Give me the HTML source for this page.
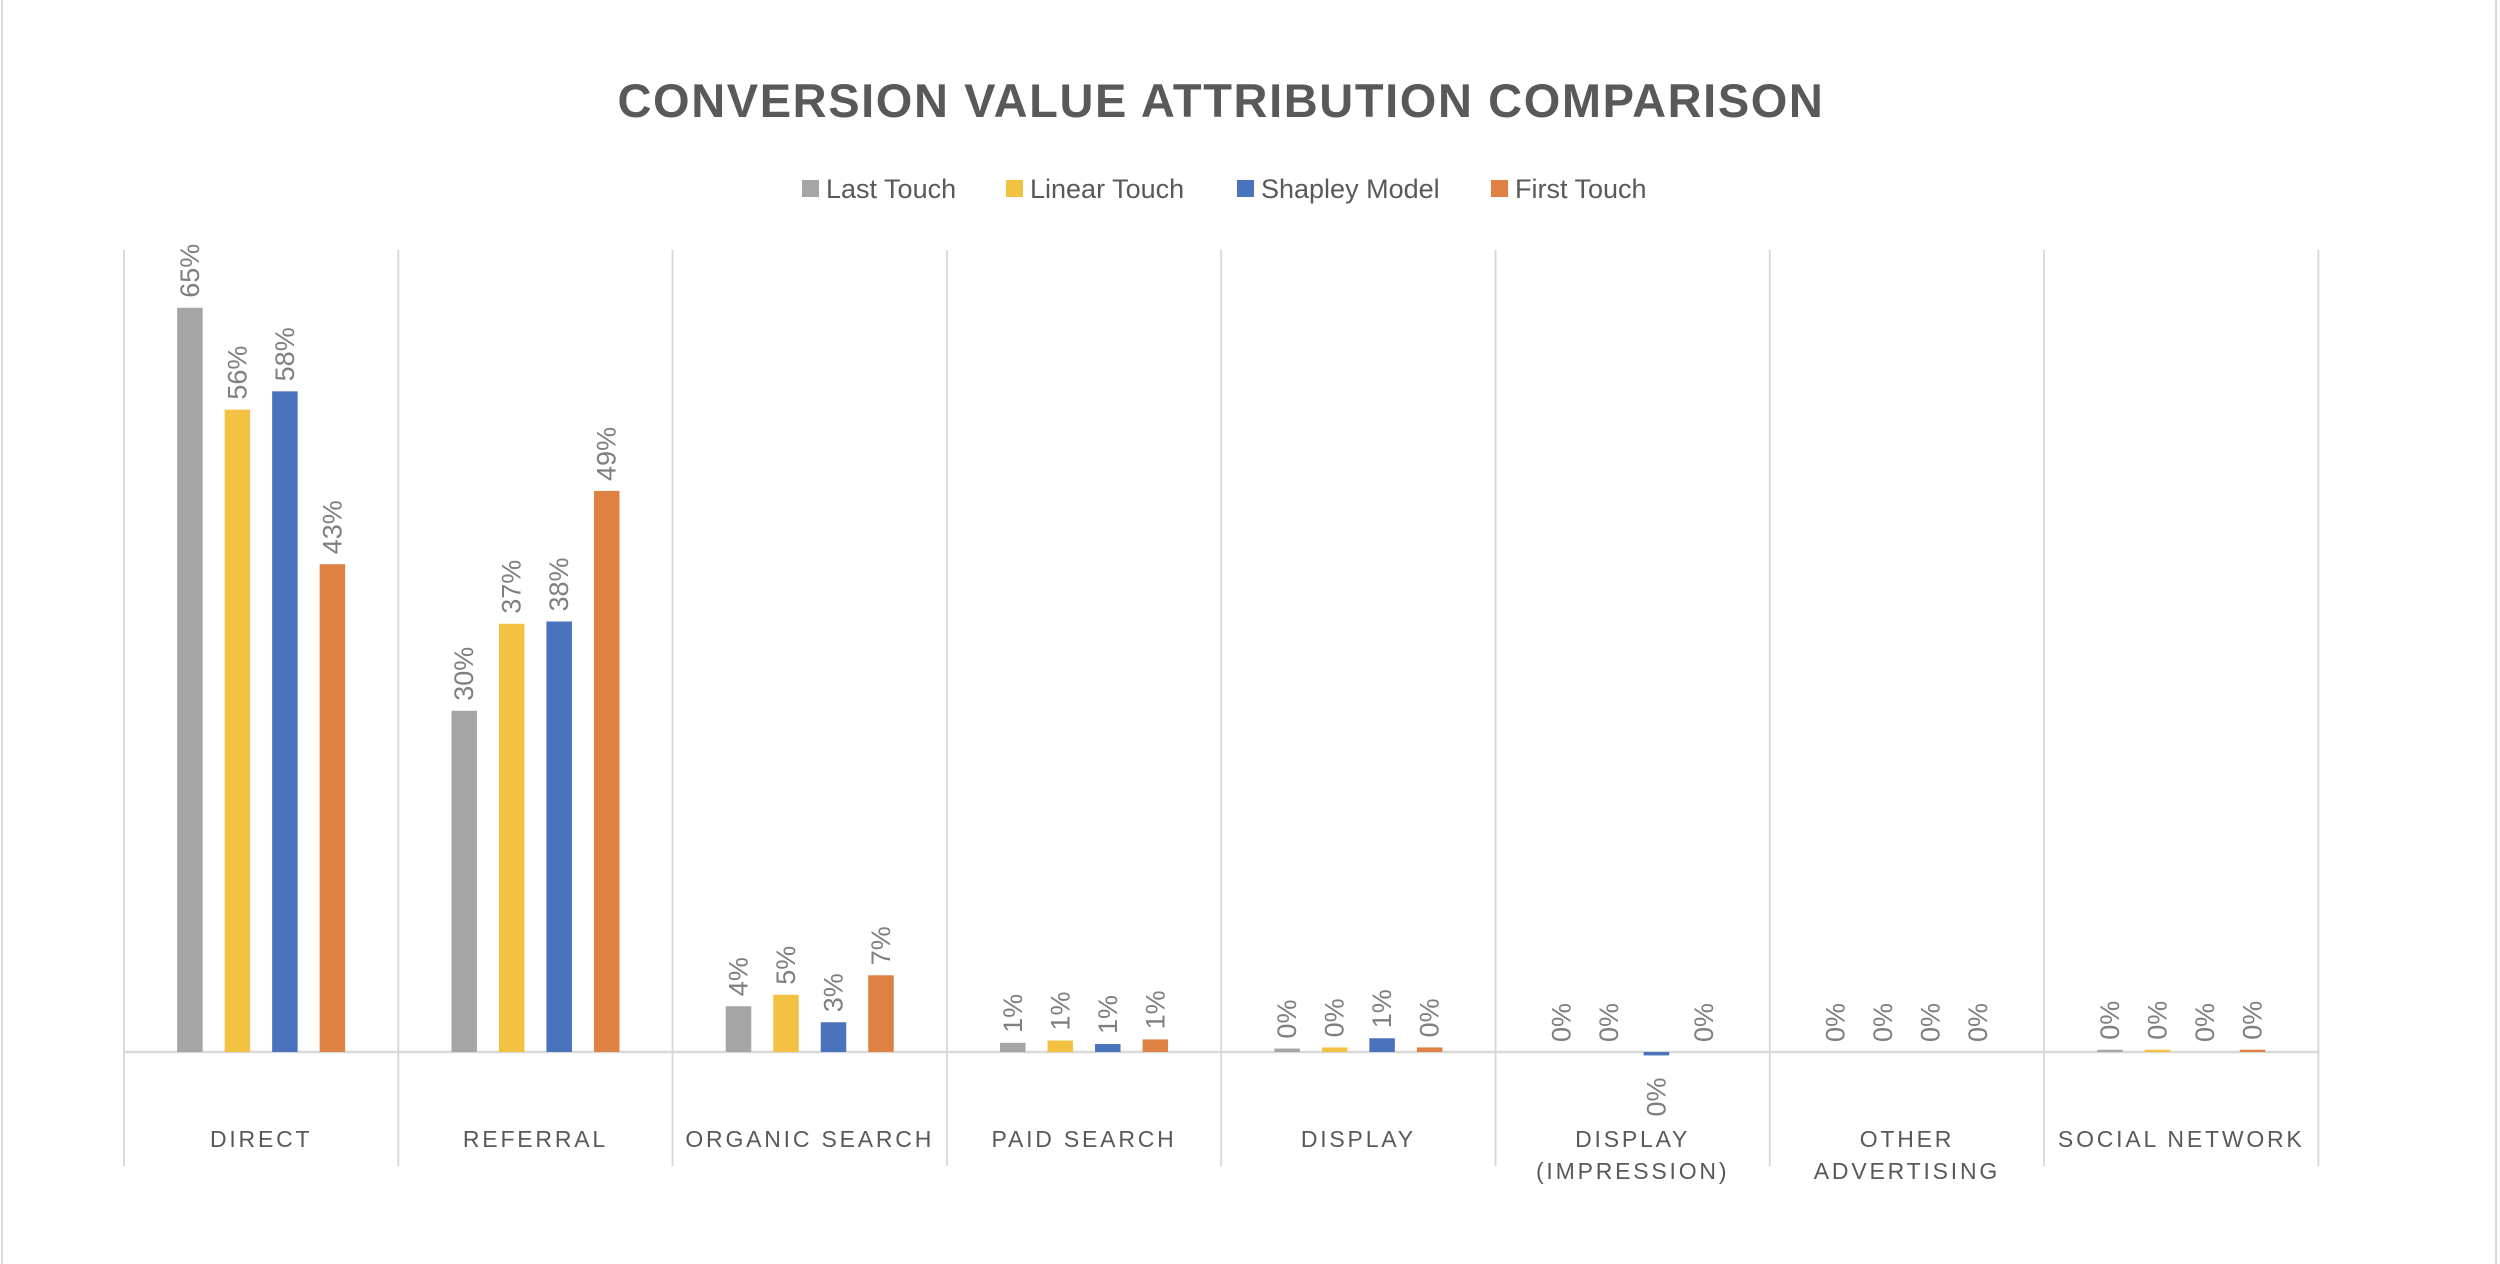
<!DOCTYPE html>
<html><head><meta charset="utf-8"><style>
html,body{margin:0;padding:0;background:#fff;}
svg{display:block;font-family:"Liberation Sans",sans-serif;}
</style></head><body>
<svg id="chart" width="2500" height="1264" viewBox="0 0 2500 1264">
<rect x="0" y="0" width="2500" height="1264" fill="#fff"/>
<line x1="2" y1="0" x2="2" y2="1264" stroke="#d9d9d9" stroke-width="2"/>
<line x1="2496" y1="0" x2="2496" y2="1264" stroke="#d9d9d9" stroke-width="2"/>
<text x="1221" y="117" text-anchor="middle" font-size="47" font-weight="bold" fill="#595959" letter-spacing="1.6">CONVERSION VALUE ATTRIBUTION COMPARISON</text>
<g id="legend"></g>
<g id="grid"></g>
<g id="bars"></g>
<g id="labels"></g>
<g id="cats"></g>
</svg>
<script>
const categories = [["DIRECT"],["REFERRAL"],["ORGANIC SEARCH"],["PAID SEARCH"],["DISPLAY"],["DISPLAY","(IMPRESSION)"],["OTHER","ADVERTISING"],["SOCIAL NETWORK"]];
const seriesNames = ["Last Touch","Linear Touch","Shapley Model","First Touch"];
const lastTouch = [65.0, 29.8, 4.0, 0.8, 0.3, 0, 0, 0.2];
const linearTouch = [56.1, 37.4, 5.0, 1.0, 0.4, 0, 0, 0.2];
const shapleyModel = [57.7, 37.6, 2.6, 0.7, 1.2, -0.3, 0, 0];
const firstTouch = [42.6, 49.0, 6.7, 1.1, 0.4, 0, 0, 0.2];
const showLabel = [[1,1,1,1],[1,1,1,1],[1,1,1,1],[1,1,1,1],[1,1,1,1],[1,1,1,1],[1,1,1,1],[1,1,1,1]];

const series = [lastTouch, linearTouch, shapleyModel, firstTouch];
const colors = ["#a5a5a5","#f4c242","#4b72bd","#df8142"];
const NS = "http://www.w3.org/2000/svg";
const plotL = 124, catW = 274.3, baseY = 1052, topY = 250, pxPer = 11.45;
const barW = 25.5, pitch = 47.5;
const groupW = pitch*3 + barW, groupOff = (catW - groupW)/2;
function xCat(i){ return plotL + i*catW; }
function xBar(i,s){ return xCat(i) + groupOff + s*pitch; }
function yVal(v){ return baseY - v*pxPer; }
function mk(tag, attrs, parent){ const e=document.createElementNS(NS,tag); for(const k in attrs) e.setAttribute(k, attrs[k]); parent.appendChild(e); return e; }

const grid = document.getElementById('grid');
for(let i=0;i<=categories.length;i++){
  const l = mk('line',{x1:xCat(i),y1:topY,x2:xCat(i),y2:1166,stroke:'#d9d9d9','stroke-width':2},grid);
  
  
}
const base = mk('line',{x1:plotL,y1:baseY,x2:xCat(categories.length),y2:baseY,stroke:'#d9d9d9','stroke-width':2.5},grid);



const bars = document.getElementById('bars'), labels = document.getElementById('labels');
series.forEach((arr,s)=>{
  arr.forEach((v,i)=>{
    const x = xBar(i,s);
    const y0 = Math.min(yVal(v), baseY), h = Math.abs(yVal(v)-baseY);
    const r = mk('rect',{x:x,y:y0,width:barW,height:Math.max(h,0),fill:colors[s]},bars);
    
    
    if(!showLabel[i][s]) return;
    const cx = x + barW/2 + 9;
    let ly, anchor;
    if(v < 0){ ly = yVal(v) + 22; anchor = 'end'; }
    else { ly = yVal(v) - 10; anchor = 'start'; }
    const t = mk('text',{x:cx,y:ly,'font-size':27,fill:'#7f7f7f','text-anchor':anchor,transform:'rotate(-90 '+cx+' '+ly+')'},labels);
    t.textContent = Math.round(Math.abs(v)) + '%';
    
    
  });
});

const cats = document.getElementById('cats');
categories.forEach((lines,i)=>{
  lines.forEach((ln,j)=>{
    const t = mk('text',{x:xCat(i)+catW/2,y:1147+j*32,'text-anchor':'middle','font-size':23,fill:'#595959','letter-spacing':2.8},cats);
    t.textContent = ln;
    
    
  });
});

const legend = document.getElementById('legend');
const legX = [802, 1006, 1237, 1491];
seriesNames.forEach((n,s)=>{
  const g = mk('g',{},legend);
  
  
  mk('rect',{x:legX[s],y:180,width:17,height:17,fill:colors[s]},g);
  const t = mk('text',{x:legX[s]+24,y:198,'font-size':27,fill:'#595959'},g);
  t.textContent = n;
});
</script>
</body></html>
